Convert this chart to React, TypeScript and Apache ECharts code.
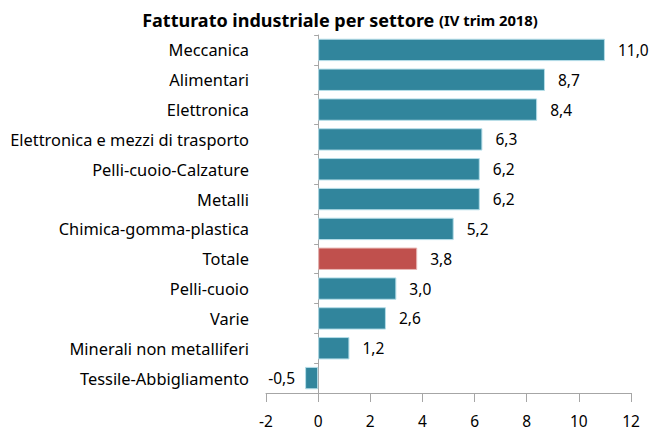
import React, { useEffect, useRef } from "react";
import * as echarts from "echarts";

const categories = [
  "Meccanica",
  "Alimentari",
  "Elettronica",
  "Elettronica e mezzi di trasporto",
  "Pelli-cuoio-Calzature",
  "Metalli",
  "Chimica-gomma-plastica",
  "Totale",
  "Pelli-cuoio",
  "Varie",
  "Minerali non metalliferi",
  "Tessile-Abbigliamento",
];
const values = [11.0, 8.7, 8.4, 6.3, 6.2, 6.2, 5.2, 3.8, 3.0, 2.6, 1.2, -0.5];
const highlight = "Totale";
const xTicks = { min: -2, max: 12, interval: 2 };

const TEAL = "#31859C";
const RED = "#C0504D";
const AXIS = "#a6a6a6";
const FONT = "Noto Sans";

export default function App() {
  const ref = useRef<HTMLDivElement>(null);
  useEffect(() => {
    if (!ref.current) return;
    const chart = echarts.init(ref.current, null, { renderer: "svg" });
    const cats = [...categories].reverse();
    const vals = [...values].reverse();
    chart.setOption({
      animation: false,
      title: {
        text: "{a|Fatturato industriale per settore }{b|(IV trim 2018)}",
        left: 335,
        textAlign: "center",
        top: 6,
        textStyle: {
          rich: {
            a: { fontFamily: FONT, fontSize: 18, fontWeight: "bold", color: "#000" },
            b: { fontFamily: FONT, fontSize: 14.8, fontWeight: "bold", color: "#000" },
          },
        },
      },
      grid: { left: 266, right: 18, top: 35, bottom: 41, containLabel: false },
      xAxis: {
        type: "value",
        min: xTicks.min,
        max: xTicks.max,
        interval: xTicks.interval,
        splitLine: { show: false },
        axisLine: { show: true, onZero: false, lineStyle: { color: AXIS } },
        axisTick: { show: true, length: 9, lineStyle: { color: AXIS } },
        axisLabel: { color: "#000", fontFamily: FONT, fontSize: 15.5, margin: 20 },
      },
      yAxis: [
        {
          type: "category",
          data: cats,
          position: "left",
          axisLine: { show: false, onZero: false },
          axisTick: { show: false },
          axisLabel: { color: "#000", fontFamily: FONT, fontSize: 16.4, margin: 17 },
        },
        {
          type: "category",
          data: cats,
          position: "left",
          axisLine: { show: true, onZero: true, lineStyle: { color: AXIS } },
          axisTick: { show: true, length: 4, lineStyle: { color: AXIS } },
          axisLabel: { show: false },
        },
      ],
      series: [
        {
          type: "bar",
          yAxisIndex: 0,
          barCategoryGap: "25%",
          data: vals.map((v, i) => ({
            value: v,
            itemStyle: {
              color: cats[i] === highlight ? RED : TEAL,
              borderColor: cats[i] === highlight ? "#e8b8b6" : "#b4dde8",
              borderWidth: 1,
            },
            label: {
              show: true,
              position: v < 0 ? "left" : "right",
              distance: v < 0 ? 10 : 13,
              formatter: () => v.toFixed(1).replace(".", ","),
              color: "#000",
              fontFamily: FONT,
              fontSize: 15.5,
            },
          })),
        },
      ],
    });
    return () => chart.dispose();
  }, []);
  return (
    <div
      ref={ref}
      style={{ position: "absolute", left: 0, top: 0, width: 649, height: 434 }}
    />
  );
}
